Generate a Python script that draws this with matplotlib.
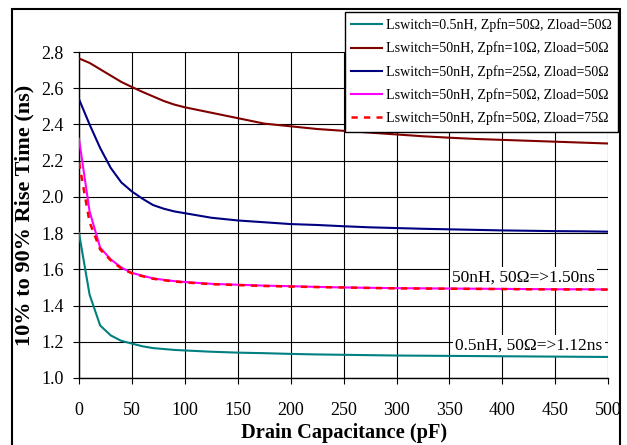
import matplotlib
matplotlib.use("Agg")
import matplotlib.pyplot as plt
from matplotlib.patches import Rectangle

plt.rcParams['font.family'] = ['Liberation Serif', 'DejaVu Serif']

cap = [0, 10, 20, 30, 40, 50, 60, 70, 80, 90, 100, 125, 150, 175, 200, 225, 250,
       275, 300, 325, 350, 375, 400, 425, 450, 475, 500]
teal = [1.80, 1.46, 1.29, 1.235, 1.205, 1.19, 1.175, 1.165, 1.16, 1.155, 1.152, 1.145,
        1.14, 1.137, 1.133, 1.13, 1.128, 1.126, 1.124, 1.123, 1.122, 1.121, 1.12, 1.119,
        1.118, 1.117, 1.116]
darkred = [2.765, 2.74, 2.705, 2.67, 2.635, 2.607, 2.58, 2.555, 2.53, 2.51, 2.495, 2.465,
           2.435, 2.405, 2.39, 2.375, 2.365, 2.355, 2.345, 2.335, 2.327, 2.32, 2.315, 2.31,
           2.305, 2.30, 2.295]
blue = [2.54, 2.40, 2.27, 2.16, 2.08, 2.03, 1.99, 1.955, 1.935, 1.92, 1.91, 1.885, 1.87,
        1.86, 1.85, 1.845, 1.838, 1.832, 1.828, 1.824, 1.821, 1.818, 1.815, 1.813, 1.811,
        1.81, 1.808]
magenta = [2.32, 1.92, 1.72, 1.655, 1.61, 1.58, 1.565, 1.55, 1.542, 1.535, 1.53, 1.52,
           1.515, 1.51, 1.507, 1.503, 1.50, 1.498, 1.496, 1.495, 1.494, 1.493, 1.492,
           1.491, 1.49, 1.49, 1.489]
red = [2.19, 1.86, 1.71, 1.65, 1.605, 1.578, 1.562, 1.548, 1.54, 1.533, 1.528, 1.518,
       1.513, 1.508, 1.505, 1.502, 1.50, 1.497, 1.495, 1.494, 1.493, 1.492, 1.491, 1.49,
       1.489, 1.489, 1.488]

labels = ["Lswitch=0.5nH, Zpfn=50\u03a9, Zload=50\u03a9",
          "Lswitch=50nH, Zpfn=10\u03a9, Zload=50\u03a9",
          "Lswitch=50nH, Zpfn=25\u03a9, Zload=50\u03a9",
          "Lswitch=50nH, Zpfn=50\u03a9, Zload=50\u03a9",
          "Lswitch=50nH, Zpfn=50\u03a9, Zload=75\u03a9"]
xticks = [0, 50, 100, 150, 200, 250, 300, 350, 400, 450, 500]
yticks = [1.0, 1.2, 1.4, 1.6, 1.8, 2.0, 2.2, 2.4, 2.6, 2.8]

fig = plt.figure(figsize=(6.27, 4.45), dpi=100)
ax = fig.add_axes([0.126, 0.1506, 0.97 - 0.126, 0.883 - 0.1506])

ax.plot(cap, teal, color='#008080', lw=1.5, label=labels[0], zorder=3)
ax.plot(cap, darkred, color='#800000', lw=1.5, label=labels[1], zorder=3)
ax.plot(cap, blue, color='#000080', lw=1.5, label=labels[2], zorder=3)
ax.plot(cap, magenta, color='#FF00FF', lw=1.5, label=labels[3], zorder=3)
ax.plot(cap, red, color='#FF0000', lw=1.8, ls=(0, (2.5, 2.5)), label=labels[4], zorder=3)

ax.set_xlim(0, 500)
ax.set_ylim(1.0, 2.8)
ax.set_xticks(xticks)
ax.set_yticks(yticks)
ax.set_yticklabels([f"{v:.1f}" for v in yticks])
ax.grid(True, color='black', lw=0.8)
ax.set_axisbelow(True)
for s in ['top', 'right']:
    ax.spines[s].set_visible(False)
for s in ['left', 'bottom']:
    ax.spines[s].set_linewidth(1.0)
ax.tick_params(axis='x', direction='out', length=4, pad=13, labelsize=13)
ax.tick_params(axis='y', direction='out', length=4, pad=7, labelsize=13)

ax.set_xlabel("Drain Capacitance (pF)", fontsize=14.7, fontweight='bold', labelpad=3)
ax.set_ylabel("10% to 90% Rise Time (ns)", fontsize=16, fontweight='bold', labelpad=5)

bb = dict(boxstyle='square,pad=0.15', fc='white', ec='none')
ax.text(420, 1.555, "50nH, 50\u03a9=>1.50ns", ha='center', va='center', fontsize=12.5,
        bbox=bb, zorder=2)
ax.text(425, 1.18, "0.5nH, 50\u03a9=>1.12ns", ha='center', va='center', fontsize=12.5,
        bbox=bb, zorder=2)

leg = fig.legend(loc='upper right', bbox_to_anchor=(0.986, 0.973), fontsize=10.1,
                 frameon=True, fancybox=False, framealpha=1, edgecolor='black',
                 handlelength=2.2, handletextpad=0.3, labelspacing=0.68, borderpad=0.45,
                 borderaxespad=0)
leg.get_frame().set_linewidth(1.0)

fig.patches.append(Rectangle((12 / 627, -0.05), (620 - 12) / 627, 1 - 9 / 445 + 0.05,
                             transform=fig.transFigure, fill=False, ec='black', lw=1.5))

fig.savefig("out.png", dpi=100)
